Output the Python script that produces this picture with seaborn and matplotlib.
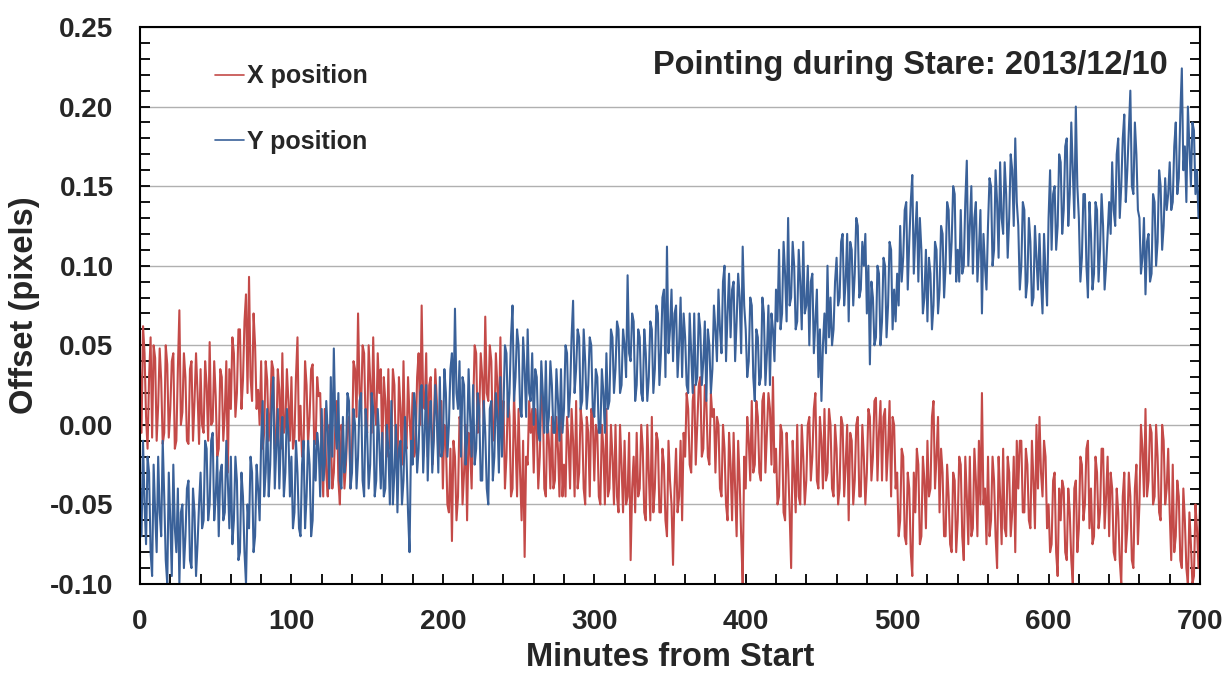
import numpy as np
import pandas as pd
import matplotlib
matplotlib.use("Agg")
import matplotlib.pyplot as plt
from matplotlib.ticker import MultipleLocator, FormatStrFormatter
import seaborn as sns

# Sample times: even minutes 0..700 and odd minutes 1..699
minutes_even = list(range(0, 702, 2))
minutes_odd = list(range(1, 700, 2))

# X position offset at even minutes, thousandths of a pixel
x_even_milli = [
    35, 62, 5, 30, -8, 42, 12, 28, -5, 38,
    10, 45, -10, 72, 8, 30, -12, 40, 15, 20,
    35, -5, 25, 52, 2, 18, -15, 30, 8, -30,
    10, 45, 20, 60, 28, 82, 93, 15, 50, 22,
    40, -5, 28, 8, 35, -10, 22, 45, 0, 15,
    30, -8, 55, 12, -15, 25, 5, 38, -12, 18,
    -20, 10, -45, -5, -30, 15, -50, -10, -25, 5,
    -15, 35, 70, 10, 45, -5, 28, 55, 0, 20,
    -20, 15, 35, -10, 25, -30, 10, 40, -15, 5,
    20, -15, 45, 75, 10, -20, 30, -5, 15, -10,
    -40, -10, -55, -73, -20, -45, 0, -30, -60, -15,
    10, 45, 5, 30, 68, 15, 40, -5, 25, 55,
    15, -20, 5, -40, -10, 10, -60, -83, -25, -5,
    -30, 0, -20, 15, -45, -10, 5, -35, -15, 10,
    -25, 5, -40, -10, 15, -30, 0, -50, -5, 10,
    -35, -5, -50, -15, 10, -40, -20, 0, -55, -25,
    -10, -45, -85, -20, -5, -40, -15, -60, -30, 5,
    -40, -10, -55, -25, -70, -35, -88, -15, -45, -60,
    -20, 10, -30, 25, 0, 30, -15, 15, -25, 5,
    -30, 0, -45, -15, -60, -25, -5, -70, -35, -100,
    -40, -10, 15, -25, 5, -35, 20, -5, 10, 30,
    -15, -45, -5, -60, -25, -90, -30, 0, -50, -20,
    -35, 5, -20, 20, -40, -10, 10, -30, 0, -45,
    -15, -40, 0, -25, -60, -10, -35, 5, -45, -20,
    -30, 5, -20, 17, -5, -35, 10, -15, -45, 0,
    -30, -60, -20, -75, -40, -95, -55, -25, -70, -35,
    -10, -40, 15, -20, -55, -30, -70, -45, -80, -35,
    -60, -25, -85, -45, -20, -65, -35, -10, 20, -40,
    -20, -60, -35, -90, -45, -15, -70, -30, -55, -80,
    -40, -10, -55, -25, -65, -35, 0, 5, -45, -20,
    -50, -75, -30, -95, -60, -40, -85, -55, -100, -35,
    -65, -25, -50, -10, -40, -70, -30, -55, -15, -45,
    -70, -40, -85, -55, -100, -30, -65, -45, -90, -25,
    -50, -15, 10, -35, -5, -45, -20, -60, -10, -40,
    -55, -25, -70, -45, -90, -60, -100, -75, -95, -65,
    -50,
]

# X position offset at odd minutes, thousandths of a pixel
x_odd_milli = [
    -5, 45, -15, 55, 50, -10, 48, -12, 50, -8,
    40, -15, 35, 0, 45, -10, 35, -10, 45, -12,
    0, 40, -10, 0, 40, -20, 35, -10, 40, 35,
    55, 5, 60, 10, 65, 20, 30, 70, 10, 0,
    -15, 40, -10, 40, -15, 35, -15, -5, 35, -10,
    -15, 30, -10, -20, 40, -12, 35, -10, 30, 20,
    -45, -30, 0, -40, 0, -35, 0, -40, 0, -40,
    40, 5, 20, 50, 0, 50, -5, 10, 45, 35,
    30, -20, -15, 35, -20, 30, -25, -10, 30, -15,
    -20, 30, 0, 15, 45, 25, -25, 35, -20, 15,
    0, -50, -15, -10, -60, 5, -50, 0, -5, -40,
    50, -5, 45, 0, 20, 50, -10, 45, 0, -5,
    -40, 20, -45, 20, -45, -30, -10, -20, 15, 10,
    10, -40, 20, -40, 5, -40, -40, 5, -45, -45,
    -45, -10, 10, -45, -40, 10, -40, 5, -45, 5,
    0, -45, 0, -50, -45, 0, -50, -45, 0, -55,
    -50, -5, -40, -55, -45, 0, -55, 0, -60, -55,
    -5, -55, -15, -60, -10, -50, -40, -55, -10, -5,
    20, -25, 15, -25, 25, -20, 25, -20, 20, 10,
    5, -40, 0, -50, -5, -60, -40, -10, -70, -20,
    5, -35, -30, 15, -30, 15, -30, 20, -25, -30,
    -50, 0, -55, -5, -55, -10, -55, -45, 0, -50,
    0, -35, 10, -35, 5, -40, -35, 10, -40, 0,
    -50, 5, -45, 0, -5, -50, 0, -45, 0, -50,
    10, -35, 15, -35, 15, 5, -35, 15, 5, -40,
    -70, -15, -70, -30, -80, -30, -15, -75, -20, -65,
    -45, 5, -40, 5, -15, -70, -25, -75, -30, -80,
    -20, -70, -20, -75, -70, -15, -70, -50, -50, -75,
    -70, -20, -70, -20, -75, -65, -20, -70, -20, -10,
    -10, -55, -15, -60, -10, -65, -40, -30, -10, -65,
    -80, -35, -80, -40, -35, -80, -40, -85, -40, -80,
    -20, -60, -15, -65, -75, -20, -65, -15, -65, -20,
    -30, -80, -40, -85, -45, -80, -30, -85, -40, -75,
    0, -45, -45, 0, -50, 0, -55, 0, -50, -15,
    -85, -80, -35, -85, -40, -90, -55, -100, -50, -90,
]

# Y position offset at even minutes, thousandths of a pixel
y_even_milli = [
    -40, -10, -75, -30, -95, -55, -20, -70, -45, -100,
    -60, -25, -80, -100, -50, -70, -35, -90, -55, -75,
    -30, -60, -15, -50, -5, -45, -70, -25, -55, -35,
    -20, -60, -35, -80, -45, -100, -65, -30, -70, -40,
    -10, -45, 10, -25, 30, -15, -40, 5, -30, -5,
    -20, -55, -30, -70, -10, -45, -25, -60, -35, -15,
    10, -25, -5, 30, 48, -15, -35, 5, -20, 15,
    -30, 0, -20, 20, -45, -5, -25, 10, -35, -10,
    -5, -40, -15, 15, -30, -55, -10, -35, -20, -80,
    -25, 10, -15, 25, -5, -35, 15, -10, 5, 30,
    -15, 20, 0, 45, 73, 10, -20, 25, -10, 5,
    25, -15, 10, -35, -5, -50, 15, -20, 5, 30,
    10, 45, 20, 75, 30, 50, 5, 35, 60, 15,
    0, 30, -10, 20, 40, 5, 25, -5, 15, 35,
    10, 45, 20, 78, 35, 55, 15, 40, 25, 50,
    5, 30, -5, 20, 45, 15, 55, 35, 60, 25,
    50, 94, 40, 65, 25, 55, 15, 45, 30, 60,
    35, 70, 45, 85, 112, 60, 40, 75, 50, 30,
    55, 20, 45, 70, 30, 60, 40, 15, 50, 35,
    60, 85, 45, 100, 70, 55, 90, 65, 80, 112,
    60, 40, 75, 15, 55, 30, 70, 45, 25, 60,
    85, 110, 70, 95, 130, 80, 100, 65, 90, 115,
    75, 50, 95, 65, 30, 15, 70, 100, 80, 60,
    105, 80, 120, 90, 65, 110, 95, 125, 85, 100,
    70, 38, 80, 55, 95, 65, 100, 75, 110, 85,
    95, 125, 105, 140, 115, 157, 120, 90, 110, 80,
    65, 95, 75, 110, 85, 120, 100, 135, 115, 145,
    110, 135, 100, 166, 125, 95, 140, 110, 70, 100,
    125, 150, 110, 140, 165, 120, 145, 130, 160, 180,
    125, 100, 135, 90, 115, 80, 105, 120, 70, 95,
    130, 110, 150, 125, 165, 135, 180, 145, 160, 200,
    130, 105, 145, 80, 120, 95, 135, 110, 125, 100,
    140, 165, 125, 180, 150, 195, 160, 210, 145, 170,
    130, 105, 82, 120, 95, 140, 115, 150, 125, 135,
    165, 140, 190, 155, 224, 175, 200, 150, 185, 160,
    150,
]

# Y position offset at odd minutes, thousandths of a pixel
y_odd_milli = [
    -70, -50, -20, -80, -25, -80, -55, -10, -85, -30,
    -95, -65, -40, -55, -90, -40, -85, -40, -95, -50,
    -65, -10, -60, -10, -60, -20, -30, -60, -10, -65,
    -75, -20, -85, -30, -80, -50, -20, -80, -25, -60,
    15, -30, -45, 15, -40, 10, -10, -45, 10, -45,
    -65, -10, -65, -25, -65, -10, -70, -10, -5, -45,
    -35, 15, -40, -20, 0, 20, -40, -30, 20, -40,
    10, -40, 15, -35, 10, -40, 20, -45, 10, -40,
    -45, 0, -50, -50, 0, -15, -50, 5, -55, -10,
    20, -30, 20, -30, 25, 0, -30, 25, -30, -20,
    35, -20, 35, 10, 20, 40, 30, -25, 35, -20,
    -25, 20, -35, 15, -40, 10, -35, 20, -30, -20,
    50, 5, 55, 15, 60, 10, 55, 5, 20, 45,
    35, -5, 40, -5, -5, 40, -5, 35, -10, -5,
    50, 5, 55, 20, 60, 10, 60, 10, 55, 10,
    35, -5, 35, -5, 10, 60, 20, 65, 20, 60,
    30, 45, 70, 15, 60, 20, 60, 15, 65, 20,
    75, 25, 80, 30, 45, 85, 70, 30, 80, 70,
    25, 70, 20, 25, 70, 25, 65, 60, 20, 75,
    40, 60, 90, 40, 95, 85, 40, 95, 45, 75,
    30, 80, 30, 60, 25, 80, 25, 75, 70, 40,
    65, 60, 115, 65, 75, 115, 60, 110, 60, 70,
    100, 90, 45, 85, 60, 50, 45, 55, 50, 90,
    75, 115, 75, 120, 115, 75, 130, 80, 115, 120,
    100, 90, 50, 100, 50, 105, 55, 115, 60, 65,
    75, 90, 135, 85, 140, 95, 140, 130, 70, 110,
    105, 60, 115, 70, 125, 80, 140, 95, 150, 90,
    90, 95, 140, 100, 150, 130, 90, 135, 120, 85,
    155, 100, 160, 105, 130, 165, 105, 170, 125, 140,
    85, 140, 80, 130, 75, 125, 85, 90, 120, 75,
    160, 145, 110, 170, 120, 175, 125, 190, 130, 150,
    90, 145, 100, 140, 85, 140, 90, 145, 85, 120,
    120, 135, 170, 130, 180, 140, 185, 150, 190, 135,
    95, 130, 115, 90, 145, 100, 160, 110, 155, 145,
    135, 175, 145, 195, 160, 140, 175, 190, 145, 130,
]

series_names = ["X position", "Y position"]
series_colors = ["#c44a48", "#3a6199"]
title_text = "Pointing during Stare: 2013/12/10"
x_label = "Minutes from Start"
y_label = "Offset (pixels)"


def build(even_vals, odd_vals, name):
    t = minutes_even + minutes_odd
    v = list(even_vals) + list(odd_vals)
    d = pd.DataFrame({"Minutes": t, "Offset": np.array(v) / 1000.0,
                      "Series": name})
    return d.sort_values("Minutes", kind="stable")


df = pd.concat([
    build(x_even_milli, x_odd_milli, series_names[0]),
    build(y_even_milli, y_odd_milli, series_names[1]),
], ignore_index=True)

sns.set_style("white")
plt.rcParams["font.family"] = ["Liberation Sans", "DejaVu Sans"]
plt.rcParams["font.weight"] = "bold"

fig = plt.figure(figsize=(12.28, 6.73), dpi=100)
ax = fig.add_axes([140 / 1228, 89 / 673, 1060 / 1228, 557 / 673])

sns.lineplot(data=df, x="Minutes", y="Offset", hue="Series",
             palette=dict(zip(series_names, series_colors)),
             linewidth=1.5, ax=ax, estimator=None, sort=False)

ax.set_xlim(0, 700)
ax.set_ylim(-0.10, 0.25)
ax.xaxis.set_major_locator(MultipleLocator(100))
ax.xaxis.set_minor_locator(MultipleLocator(20))
ax.yaxis.set_major_locator(MultipleLocator(0.05))
ax.yaxis.set_minor_locator(MultipleLocator(0.01))
ax.yaxis.set_major_formatter(FormatStrFormatter("%.2f"))

ax.grid(axis="y", which="major", color="#b0b0b0", linewidth=1.0)
ax.grid(axis="x", visible=False)
ax.set_axisbelow(True)

for s in ax.spines.values():
    s.set_visible(True)
    s.set_color("black")
    s.set_linewidth(1.5)

ax.tick_params(axis="both", which="both", direction="in", color="black",
               width=1.3, length=7)
ax.tick_params(axis="y", which="both", left=True, right=True)
ax.tick_params(axis="x", which="both", bottom=True, top=False)
ax.tick_params(axis="y", which="major", labelsize=20, pad=19)
ax.tick_params(axis="x", which="major", labelsize=20, pad=18)

for lab in ax.get_xticklabels() + ax.get_yticklabels():
    lab.set_fontweight("bold")

ax.set_xlabel(x_label, fontsize=23.5, fontweight="bold", labelpad=5)
ax.set_ylabel(y_label, fontsize=23.5, fontweight="bold", labelpad=7)

ax.text(0.97, 0.93, title_text, transform=ax.transAxes, ha="right",
        va="center", fontsize=23.5, fontweight="bold")

leg = ax.legend(loc="upper left", bbox_to_anchor=(0.071, 0.933),
                frameon=False, fontsize=18, handlelength=1.15,
                handletextpad=0.1, labelspacing=1.67, borderpad=0,
                borderaxespad=0)
for line in leg.get_lines():
    line.set_linewidth(1.2)
for t in leg.get_texts():
    t.set_fontweight("bold")

fig.savefig("out.png", dpi=100)
